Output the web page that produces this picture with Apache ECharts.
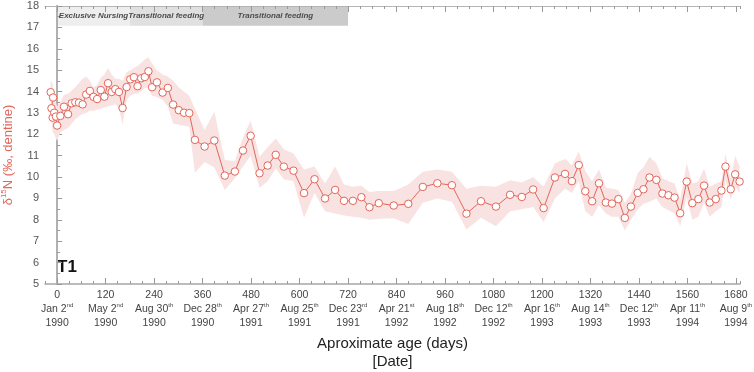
<!DOCTYPE html>
<html>
<head>
<meta charset="utf-8">
<script src="https://cdn.jsdelivr.net/npm/echarts@6/dist/echarts.min.js"></script>
<style>html,body{margin:0;padding:0;background:#fff}#c{width:754px;height:372px}</style>
</head>
<body>
<div id="c"></div>
<script>
const days = [-16,-10,-14,-11,-7,-3,0,8,17,27,36,45,54,63,72,81,90,99,108,117,126,135,144,153,162,172,181,190,199,208,217,226,235,247,261,274,287,301,314,327,341,365,389,415,440,460,479,501,521,541,561,585,611,637,663,688,710,732,753,773,796,833,869,905,941,977,1013,1049,1086,1121,1150,1178,1204,1232,1257,1274,1291,1307,1324,1341,1358,1373,1389,1405,1420,1437,1451,1466,1483,1498,1513,1528,1542,1558,1572,1587,1601,1615,1630,1644,1654,1667,1678,1689];
const d15N = [13.97,13.72,13.22,12.78,13.01,12.83,12.41,12.86,13.29,12.94,13.45,13.5,13.48,13.4,13.86,14.03,13.75,13.65,14.07,13.76,14.39,13.98,14.11,13.98,13.23,14.21,14.57,14.67,14.25,14.62,14.68,14.95,14.2,14.43,13.95,14.17,13.39,13.13,13.01,12.99,11.74,11.43,11.71,10.07,10.26,11.24,11.93,10.18,10.54,11.04,10.49,10.3,9.25,9.9,9.0,9.4,8.89,8.89,9.06,8.59,8.78,8.67,8.75,9.54,9.71,9.62,8.29,8.87,8.62,9.17,9.07,9.42,8.55,9.98,10.15,9.81,10.56,9.34,8.87,9.71,8.81,8.76,8.97,8.09,8.62,9.26,9.43,9.98,9.87,9.23,9.15,9.04,8.31,9.79,8.78,8.97,9.6,8.81,8.97,9.37,10.49,9.43,10.13,9.79];
const upperCI = [14.55,14.3,13.8,13.5,13.6,13.5,13.3,13.5,13.85,13.9,14.05,14.2,14.4,14.6,14.7,14.5,14.2,14.3,14.65,14.8,15.1,14.8,14.6,14.6,14.5,14.9,15.0,15.1,15.2,15.35,15.5,15.6,15.3,15.0,14.8,14.7,14.5,14.2,14.0,13.8,13.2,12.2,13.05,10.8,10.75,11.85,12.65,10.95,11.4,11.8,11.3,11.1,10.35,10.5,9.7,10.5,9.65,9.55,9.6,9.3,9.35,9.35,9.65,10.25,10.35,10.25,9.45,9.6,9.55,9.85,9.75,10.0,9.55,10.65,10.85,10.55,11.2,10.3,9.8,10.35,9.5,9.45,9.4,8.8,9.2,10.2,10.45,10.95,10.65,9.95,9.8,9.7,8.95,10.65,9.7,9.8,10.4,9.55,9.7,9.8,11.1,9.9,11.0,10.5];
const lowerCI = [13.45,13.1,12.6,12.1,12.0,11.8,11.7,12.1,12.2,12.3,12.5,12.7,12.85,12.95,13.0,13.1,13.1,13.15,13.2,13.25,13.3,13.35,13.4,13.2,12.45,13.6,13.8,13.9,13.9,14.0,14.15,14.2,13.8,13.75,13.6,13.3,12.5,12.45,12.4,12.35,10.2,10.7,10.45,9.4,9.95,10.5,11.0,9.5,9.8,10.4,9.9,9.8,8.1,9.25,8.4,8.3,8.2,8.15,8.1,8.0,8.05,8.08,7.8,8.8,9.0,8.85,7.55,8.1,7.7,8.4,8.5,8.6,7.9,9.0,9.45,9.25,9.8,8.4,8.15,8.7,8.3,8.15,8.15,7.5,8.0,8.5,8.75,8.85,9.0,8.6,8.45,8.3,7.7,9.05,8.0,8.15,8.8,8.15,8.4,8.6,9.85,8.95,9.55,9.25];

const tickDays = [0,120,240,360,480,600,720,840,960,1080,1200,1320,1440,1560,1680];
const tickDates = ['Jan 2','May 2','Aug 30','Dec 28','Apr 27','Aug 25','Dec 23','Apr 21','Aug 18','Dec 12','Apr 16','Aug 14','Dec 12','Apr 11','Aug 9'];
const tickSups = ['nd','nd','th','th','th','th','rd','st','th','th','th','th','th','th','th'];
const tickYears = ['1990','1990','1990','1990','1991','1991','1991','1992','1992','1992','1993','1993','1993','1994','1994'];

const phaseStart = [0,180,360];
const phaseEnd = [180,360,720];
const phaseLabels = ['Exclusive Nursing','Transitional feeding','Transitional feeding'];

const FONT = 'Liberation Sans, Arial, Helvetica, sans-serif';
const RED = '#e2665a';
const phaseColors = ['#eeeeee','#e0e0e0','#cbcbcb'];

const chart = echarts.init(document.getElementById('c'), null, {renderer:'canvas'});

const baseX = {type:'value', min:-30, max:1690, splitLine:{show:false}};
const option = {
  animation:false,
  textStyle:{fontFamily:FONT},
  grid:{left:45, right:14, top:6, bottom:88, containLabel:false, outerBoundsMode:'none'},
  graphic:[{type:'text', left:57, top:259, style:{text:'T1', fontSize:17, fontWeight:'bold', fill:'#111', fontFamily:FONT}}],
  xAxis:[
    Object.assign({}, baseX, {
      position:'bottom',
      axisLine:{show:true, lineStyle:{color:'#a6a6a6', width:1.5}},
      axisTick:{show:true, inside:true, length:6, customValues:tickDays, lineStyle:{color:'#999'}},
      axisLabel:{show:true, customValues:tickDays, margin:4, color:'#444', fontFamily:FONT, lineHeight:14,
        formatter:function(v){const i=tickDays.indexOf(v); if(i<0) return ''; return '{n|'+v+'}\n{d|'+tickDates[i]+'}{s|'+tickSups[i]+'}\n{n|'+tickYears[i]+'}';},
        rich:{n:{fontSize:10.5,lineHeight:14,color:'#444',fontFamily:FONT},d:{fontSize:10.5,lineHeight:14,color:'#444',fontFamily:FONT},s:{fontSize:6,lineHeight:14,verticalAlign:'top',color:'#444',fontFamily:FONT}}},
      name:'Aproximate age (days)\n[Date]', nameLocation:'middle', nameGap:51,
      nameTextStyle:{fontSize:15, color:'#222', lineHeight:18, fontFamily:FONT}
    }),
    Object.assign({}, baseX, {
      position:'bottom', interval:30,
      axisLine:{show:false},
      axisTick:{show:true, inside:true, length:3, lineStyle:{color:'#999'}},
      axisLabel:{show:false}
    }),
    Object.assign({}, baseX, {
      position:'top',
      axisLine:{show:true, lineStyle:{color:'#b5b5b5', width:1}},
      axisTick:{show:true, inside:true, length:6, customValues:tickDays, lineStyle:{color:'#999'}},
      axisLabel:{show:false}
    }),
    Object.assign({}, baseX, {
      position:'top', interval:30,
      axisLine:{show:false},
      axisTick:{show:true, inside:true, length:3, lineStyle:{color:'#999'}},
      axisLabel:{show:false}
    })
  ],
  yAxis:[
    {type:'value', min:5, max:18, interval:1, position:'left',
     splitLine:{show:false},
     axisLine:{show:true, lineStyle:{color:'#a6a6a6', width:2}},
     axisTick:{show:true, inside:true, length:5, lineStyle:{color:'#999'}},
     minorTick:{show:true, splitNumber:2, length:3, lineStyle:{color:'#999'}},
     axisLabel:{color:'#555', fontSize:11, margin:6, fontFamily:FONT},
     name:'{a|δ}{s|15}{a|N (‰, dentine)}', nameLocation:'middle', nameGap:29,
     nameTextStyle:{color:RED, fontSize:13, fontFamily:FONT, padding:[0,20,0,0],
       rich:{a:{fontSize:13,color:RED,fontFamily:FONT,lineHeight:16},s:{fontSize:8,color:RED,verticalAlign:'top',lineHeight:16,fontFamily:FONT}}}
    },
    {type:'value', min:5, max:18, interval:1, position:'right',
     splitLine:{show:false},
     axisLine:{show:true, lineStyle:{color:'#b5b5b5', width:1.5}},
     axisTick:{show:false}, axisLabel:{show:false}}
  ],
  series:[
    {type:'custom', xAxisIndex:0, yAxisIndex:0, clip:true, silent:true, z:1,
     data:[[0,10]],
     renderItem:function(params, api){
       const pts=[];
       for(let i=0;i<days.length;i++) pts.push(api.coord([days[i], upperCI[i]]));
       for(let i=days.length-1;i>=0;i--) pts.push(api.coord([days[i], lowerCI[i]]));
       return {type:'polygon', shape:{points:pts}, style:{fill:'#f9e2e2', stroke:null}};
     }
    },
    {type:'line', xAxisIndex:0, yAxisIndex:0, z:3,
     data: days.map((d,i)=>[d, d15N[i]]),
     lineStyle:{color:RED, width:1},
     symbol:'circle', symbolSize:7.5, showSymbol:true,
     itemStyle:{color:'#fff', borderColor:RED, borderWidth:1},
     markArea:{silent:true, z:0,
       data: phaseStart.map((s,i)=>[
         {xAxis:s, yAxis:17.08, itemStyle:{color:phaseColors[i]},
          label:{show:true, position:'inside', formatter:phaseLabels[i], fontStyle:'italic', fontWeight:'bold', fontSize:8, color:'#4d4d4d', fontFamily:FONT}},
         {xAxis:phaseEnd[i], yAxis:18}
       ])
     }
    }
  ]
};
chart.setOption(option);
</script>
</body>
</html>
